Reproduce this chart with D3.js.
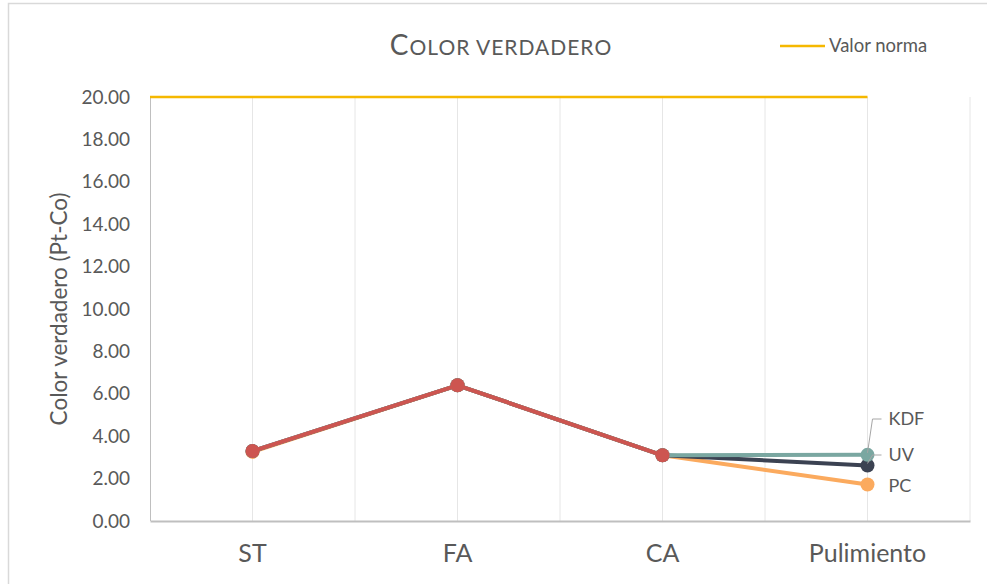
<!DOCTYPE html>
<html>
<head>
<meta charset="utf-8">
<title>Color verdadero</title>
<script src="https://cdn.jsdelivr.net/npm/d3@7"></script>
<style>
  html, body { margin: 0; padding: 0; background: #fff; }
  svg text { font-family: Lato, "Open Sans", sans-serif; fill: #595959; }
</style>
</head>
<body>
<svg id="viz"></svg>
<script>
// data
var categories = ["ST", "FA", "CA", "Pulimiento"];
var yTicks = [0, 2, 4, 6, 8, 10, 12, 14, 16, 18, 20];
var valorNorma = 20;

var kdfValues = [3.3, 6.4, 3.1, 3.12];
var uvValues  = [3.3, 6.4, 3.1, 2.62];
var pcValues  = [3.26, 6.4, 3.1, 1.72];
var baseValues = [3.3, 6.4, 3.1];   // shared part, drawn in red on top

var series = [
  {name: "PC",  values: pcValues,  color: "#fbaa5e"},
  {name: "UV",  values: uvValues,  color: "#3b4252"},
  {name: "KDF", values: kdfValues, color: "#7aa7a1"},
  {name: "",    values: baseValues, color: "#cd5550"}
];

var width = 987, height = 584;
var svg = d3.select("#viz").attr("width", width).attr("height", height);

// chart frame (only top and left edges fall inside the picture)
svg.append("path")
    .attr("d", "M8.5,584V3.5H987")
    .attr("fill", "none")
    .attr("stroke", "#d9d9d9")
    .attr("stroke-width", 1.5);

// note: "top" is taken by window.top, so plot edges get their own names
var plotLeft = 150, plotRight = 970, plotTop = 97, plotBottom = 521;

var x = d3.scaleBand().domain(categories).range([plotLeft, plotRight]);
var y = d3.scaleLinear().domain([0, 20]).range([plotBottom, plotTop]);
var cx = function(c) { return x(c) + x.bandwidth() / 2; };

// vertical gridlines at centres and between categories
var gridX = [];
categories.forEach(function(c) { gridX.push(cx(c)); gridX.push(x(c) + x.bandwidth()); });
svg.append("g").selectAll("line")
    .data(gridX)
    .enter()
    .append("line")
    .attr("x1", function(d) { return d; })
    .attr("x2", function(d) { return d; })
    .attr("y1", plotTop)
    .attr("y2", plotBottom)
    .attr("stroke", "#e6e6e6")
    .attr("stroke-width", 1);

// left axis line
svg.append("line")
    .attr("x1", plotLeft + 0.5).attr("x2", plotLeft + 0.5)
    .attr("y1", plotTop).attr("y2", plotBottom)
    .attr("stroke", "#bfbfbf");

// y axis labels
var yAxis = svg.append("g")
    .attr("transform", "translate(" + plotLeft + ",0)")
    .call(d3.axisLeft(y).tickValues(yTicks).tickFormat(d3.format(".2f")).tickSize(0).tickPadding(20));
yAxis.select(".domain").remove();
yAxis.selectAll("text")
    .style("font-size", "19px")
    .style("font-family", "Lato, 'Open Sans', sans-serif")
    .attr("fill", "#595959");

// x axis
var xAxis = svg.append("g")
    .attr("transform", "translate(0," + plotBottom + ")")
    .call(d3.axisBottom(x).tickSize(0).tickPadding(23));
xAxis.select(".domain").attr("stroke", "#bfbfbf").attr("stroke-width", 2);
xAxis.selectAll("text")
    .style("font-size", "25px")
    .style("font-family", "Lato, 'Open Sans', sans-serif")
    .attr("fill", "#595959");

// axis title
svg.append("text")
    .attr("transform", "translate(67," + ((plotTop + plotBottom) / 2) + ") rotate(-90)")
    .attr("text-anchor", "middle")
    .style("font-size", "22.5px")
    .text("Color verdadero (Pt-Co)");

// norma line
svg.append("line")
    .attr("x1", plotLeft)
    .attr("x2", cx("Pulimiento"))
    .attr("y1", y(valorNorma))
    .attr("y2", y(valorNorma))
    .attr("stroke", "#f5b800")
    .attr("stroke-width", 2.5);

// series
var line = d3.line()
    .x(function(d, i) { return cx(categories[i]); })
    .y(function(d) { return y(d); });

series.forEach(function(s) {
  var g = svg.append("g");
  g.append("path")
      .datum(s.values)
      .attr("d", line)
      .attr("fill", "none")
      .attr("stroke", s.color)
      .attr("stroke-width", 4)
      .attr("stroke-linejoin", "round");
  g.selectAll("circle")
      .data(s.values)
      .enter()
      .append("circle")
      .attr("cx", function(d, i) { return cx(categories[i]); })
      .attr("cy", function(d) { return y(d); })
      .attr("r", 7)
      .attr("fill", s.color);
});

// data labels at Pulimiento with leader lines
var lx = cx("Pulimiento");
var labels = [
  {text: "KDF", value: kdfValues[3], ly: 419, leader: true},
  {text: "UV",  value: uvValues[3],  ly: 455, leader: true},
  {text: "PC",  value: pcValues[3],  ly: 486, leader: false}
];
labels.forEach(function(l) {
  if (l.leader) {
    svg.append("path")
        .attr("d", "M" + lx + "," + (y(l.value) - 2) + "L" + (lx + 5) + "," + l.ly + "H" + (lx + 14))
        .attr("fill", "none")
        .attr("stroke", "#a6a6a6")
        .attr("stroke-width", 1);
  }
  svg.append("text")
      .attr("x", lx + 21)
      .attr("y", l.ly)
      .attr("dy", "0.35em")
      .style("font-size", "18px")
      .text(l.text);
});

// title in small caps
var title = svg.append("text")
    .attr("x", 501)
    .attr("y", 55)
    .attr("text-anchor", "middle")
    .attr("fill", "#595959")
    .style("letter-spacing", "1px");
title.append("tspan").style("font-size", "28px").text("C");
title.append("tspan").style("font-size", "21px").text("OLOR  VERDADERO");

// legend
svg.append("line")
    .attr("x1", 780).attr("x2", 825)
    .attr("y1", 46).attr("y2", 46)
    .attr("stroke", "#f5b800")
    .attr("stroke-width", 2.5);
svg.append("text")
    .attr("x", 829)
    .attr("y", 46)
    .attr("dy", "0.35em")
    .style("font-size", "18.5px")
    .text("Valor norma");
</script>
</body>
</html>
